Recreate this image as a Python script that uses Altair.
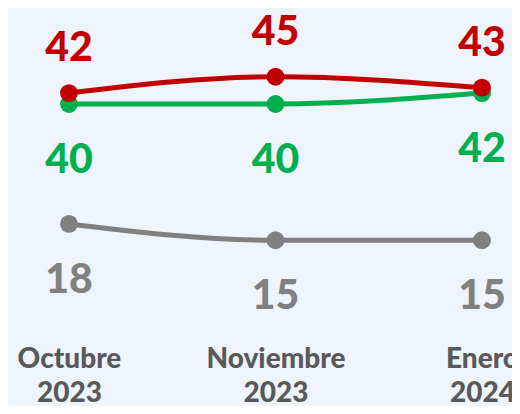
import altair as alt
import pandas as pd

# ---- data ----
months = ["Octubre", "Noviembre", "Enero"]
years = ["2023", "2023", "2024"]
series_names = ["Gris", "Verde", "Rojo"]          # drawing order (red on top)
series_colors = ["#808080", "#00b050", "#c00000"]
label_colors = ["#7f7f7f", "#00b050", "#c00000"]
gray_values = [18, 15, 15]
green_values = [40, 40, 42]
red_values = [42, 45, 43]
label_side = ["below", "below", "above"]

rows = []
for name, vals, side in zip(series_names, [gray_values, green_values, red_values], label_side):
    for i, v in enumerate(vals):
        rows.append({"idx": i, "month": months[i], "series": name, "value": v, "side": side})
df = pd.DataFrame(rows)

label_arrays = "[" + ",".join("['%s','%s']" % (m, yr) for m, yr in zip(months, years)) + "]"

x = alt.X(
    "idx:Q",
    scale=alt.Scale(domain=[-0.2954, 2.1453], nice=False, zero=False),
    axis=alt.Axis(
        title=None, domain=False, ticks=False, grid=False, labelAngle=0,
        values=list(range(len(months))),
        labelFont="Lato", labelFontSize=28, labelFontWeight=900,
        labelColor="#595959", labelExpr=label_arrays + "[datum.value]",
        labelLineHeight=34, labelPadding=-3, labelOverlap=False, labelLimit=0,
        labelFlush=False,
    ),
)
y = alt.Y("value:Q", scale=alt.Scale(domain=[-4.77, 57.615], nice=False, zero=False), axis=None)
color = alt.Color("series:N", scale=alt.Scale(domain=series_names, range=series_colors), legend=None)
tcolor = alt.Color("series:N", scale=alt.Scale(domain=series_names, range=label_colors), legend=None)

base = alt.Chart(df).encode(x=x, y=y)

lines = base.mark_line(strokeWidth=5, interpolate="monotone").encode(color=color, detail="series:N")
points = base.mark_circle(size=320, opacity=1).encode(color=color)
text_above = base.transform_filter(alt.datum.side == "above").mark_text(
    font="Lato", fontSize=41, fontWeight=900, baseline="middle", dy=-44
).encode(text="value:Q", color=tcolor)
text_below = base.transform_filter(alt.datum.side == "below").mark_text(
    font="Lato", fontSize=41, fontWeight=900, baseline="middle", dy=57
).encode(text="value:Q", color=tcolor)

chart = alt.layer(lines, points, text_above, text_below).properties(
    width=504, height=340,
    autosize=alt.AutoSizeParams(type="none"),
    padding={"left": 0, "top": 0, "right": 0, "bottom": 58},
    background="#eef3fc",
).configure_view(stroke=None)

chart.save("out.html", embed_options={"renderer": "svg", "actions": False})
